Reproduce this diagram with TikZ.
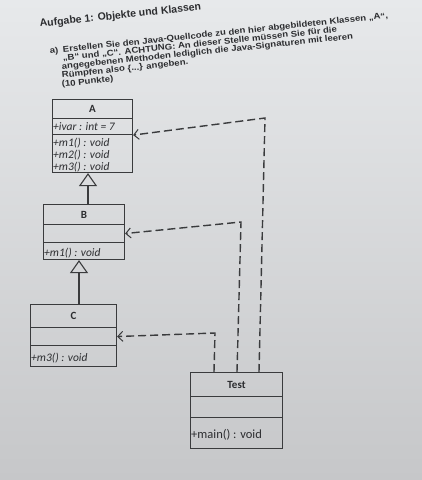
\documentclass[tikz,border=0pt]{standalone}
\usepackage{fontspec}
\setmainfont{Liberation Sans}
\newfontfamily\umlfont{Carlito}
\newfontfamily\parafont[FakeStretch=1.14]{Liberation Sans Bold}
\usetikzlibrary{arrows.meta}
\definecolor{ink}{HTML}{3A3B3D}
\definecolor{txt}{HTML}{2C2D30}
\definecolor{papertop}{HTML}{E7E9EB}
\definecolor{paperbot}{HTML}{C6C7C9}
\begin{document}
\begin{tikzpicture}[x=1pt,y=-1pt,
  comp/.style={draw=ink, line width=1.1pt, anchor=north west, inner sep=0pt, text=txt,
    font=\umlfont\bfseries\fontsize{11}{12}\selectfont},
  member/.style={anchor=base west, inner sep=0pt, text=txt,
    font=\umlfont\itshape\fontsize{11.5}{12}\selectfont},
  memberup/.style={anchor=base west, inner sep=0pt, text=txt,
    font=\umlfont\fontsize{12.5}{13}\selectfont},
  gen/.style={draw=ink, line width=1.1pt, -{Triangle[open, length=13pt, width=18pt, line width=1.1pt]}},
  dep/.style={draw=ink, line width=1.4pt, dash pattern=on 8pt off 4pt,
    -{Straight Barb[length=5pt, width=10pt, line width=1pt]}},
  head/.style={anchor=base west, rotate=6, inner sep=0pt, text=txt,
    font=\bfseries\fontsize{10.5}{12}\selectfont},
  para/.style={anchor=base west, rotate=6, inner sep=0pt, text=txt,
    font=\parafont\fontsize{8.4}{10}\selectfont}]
\fill[top color=papertop, bottom color=paperbot] (0,0) rectangle (422,480);
\useasboundingbox (0,0) rectangle (422,480);

% heading and task text
\node[head] (h) at (40,27) {Aufgabe 1: Objekte und Klassen};
\node[para] (ta) at (50,54) {a)};
\node[para] (t1) at (63,52.5) {Erstellen Sie den Java-Quellcode zu den hier abgebildeten Klassen „A“,};
\node[para] (t2) at (63,61) {„B“ und „C“. ACHTUNG: An dieser Stelle müssen Sie für die};
\node[para] (t3) at (62,69.5) {angegebenen Methoden lediglich die Java-Signaturen mit leeren};
\node[para] (t4) at (62,78) {Rümpfen also \{...\} angeben.};
\node[para] (t5) at (62,87) {(10 Punkte)};

% class A
\node[comp, minimum width=80pt, minimum height=19pt] (A1) at (52,99) {A};
\node[comp, minimum width=80pt, minimum height=16pt] (A2) at (52,118) {};
\node[comp, minimum width=80pt, minimum height=38pt] (A3) at (52,134) {};
\node[member] (a1) at (53,130) {+ivar : int = 7};
\node[member] (a2) at (53,146) {+m1() : void};
\node[member] (a3) at (53,158) {+m2() : void};
\node[member] (a4) at (53,170) {+m3() : void};

% class B
\node[comp, minimum width=81pt, minimum height=20pt] (B1) at (43,204) {B};
\node[comp, minimum width=81pt, minimum height=18pt] (B2) at (43,224) {};
\node[comp, minimum width=81pt, minimum height=17pt] (B3) at (43,242) {};
\node[member] (b1) at (44,256) {+m1() : void};

% class C
\node[comp, minimum width=86pt, minimum height=23pt] (C1) at (30,304) {C};
\node[comp, minimum width=86pt, minimum height=18pt] (C2) at (30,327) {};
\node[comp, minimum width=86pt, minimum height=21pt] (C3) at (30,345) {};
\node[member] (c1) at (31,361) {+m3() : void};

% class Test
\node[comp, minimum width=92pt, minimum height=24pt] (T1) at (190,372) {Test};
\node[comp, minimum width=92pt, minimum height=21pt] (T2) at (190,396) {};
\node[comp, minimum width=92pt, minimum height=31pt] (T3) at (190,417) {};
\node[memberup] (tm) at (191,438) {+main() : void};

% generalizations
\coordinate (ab) at (88,0);
\coordinate (bc) at (79,0);
\draw[gen] (ab |- B1.north) -- (ab |- A3.south);
\draw[gen] (bc |- C1.north) -- (bc |- B3.south);

% dependencies
\coordinate (sA) at (259,372);
\coordinate (sB) at (237,372);
\coordinate (sC) at (214,372);
\coordinate (kA) at (265,118);
\coordinate (kB) at (241,222);
\coordinate (kC) at (215,333);
\draw[dep] (sA) -- (kA) -- (A2.south east);
\draw[dep] (sB) -- (kB) -- (B2.east);
\draw[dep] (sC) -- (kC) -- (C2.east);
\end{tikzpicture}
\end{document}
